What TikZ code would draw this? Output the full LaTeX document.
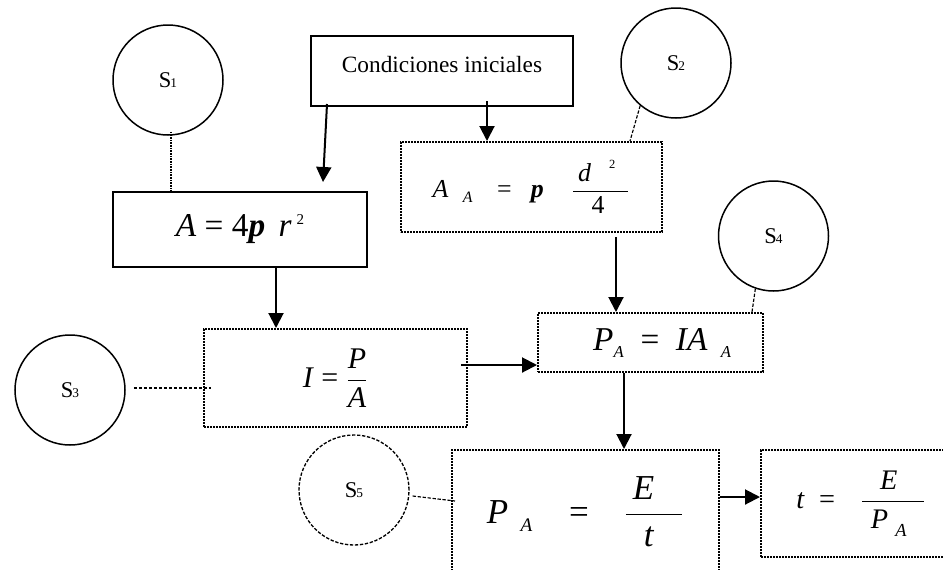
\documentclass[tikz,border=0pt]{standalone}
\usepackage{fontspec}
\setmainfont{Liberation Serif}
\usetikzlibrary{arrows.meta,calc}

% ---------- unit (1 px of the sketch) ----------
\def\u{0.6pt}

% ---------- styles ----------
\tikzset{
  solidbox/.style={draw, line width=1.2pt, inner sep=2pt},
  dotbox/.style={draw, line width=1.2pt, dash pattern=on 1.1pt off 0.7pt, inner sep=2pt},
  bubble/.style={circle, draw, line width=0.9pt, minimum size=110*\u, inner sep=0pt,
    font=\fontsize{13.5}{15}\selectfont},
  dashbubble/.style={bubble, dash pattern=on 2pt off 1pt, line width=0.8pt},
  flow/.style={-{Triangle[length=9pt,width=9pt]}, line width=1.2pt},
  link/.style={line width=0.7pt, dash pattern=on 2pt off 1pt},
}

% ---------- small indices ----------
\newcommand{\sidx}[1]{\kern-0.6pt{\fontsize{8}{8}\selectfont #1}}
% #1 = drop, #2 = size, #3 = text
\newcommand{\lowtxt}[3]{\raisebox{-#1}{\fontsize{#2}{#2}\selectfont #3}}
% #1 = raise, #2 = size, #3 = text
\newcommand{\hightxt}[3]{\raisebox{#1}{\fontsize{#2}{#2}\selectfont #3}}

\begin{document}
\begin{tikzpicture}[x=\u, y=-\u]

\useasboundingbox (0,0) rectangle (943,569);
\clip (0,0) rectangle (943,569);

% ---------- boxes ----------
\node[solidbox, minimum width=262*\u, minimum height=70*\u, text depth=8pt,
  font=\fontsize{14}{16}\selectfont] (cond) at (442,71) {Condiciones iniciales};

\node[solidbox, minimum width=254*\u, minimum height=75*\u,
  font=\fontsize{20}{24}\selectfont] (eqA) at (240,229.5)
  {\textit{A} = 4\textbf{\textit{p}}\hspace{0.4em}\textit{r}\hspace{0.15em}\hightxt{0.36em}{9pt}{2}};

\node[dotbox, minimum width=261*\u, minimum height=90*\u,
  font=\fontsize{15.5}{18}\selectfont] (eqAA) at (531.5,187)
  {\textit{A}\hspace{0.55em}\lowtxt{0.2em}{9.5pt}{\textit{A}}\hspace{0.95em}=\hspace{0.75em}%
   \textbf{\textit{p}}\hspace{1.05em}%
   $\displaystyle\frac{\hspace{0.2em}\textit{d}\hspace{0.7em}\hightxt{0.5em}{7.5pt}{2}\hspace{0.5em}}%
   {\mbox{4}\hspace{0.2em}}$};

\node[dotbox, minimum width=263*\u, minimum height=98*\u,
  font=\fontsize{18}{22}\selectfont] (eqI) at (335.5,378)
  {\textit{I} = $\displaystyle\frac{\textit{P}}{\textit{A}}$};

\node[dotbox, minimum width=225*\u, minimum height=59*\u,
  font=\fontsize{20}{24}\selectfont] (eqPA) at (650.5,342.5)
  {\hspace*{14pt}\textit{P}\lowtxt{0.21em}{10pt}{\textit{A}}\hspace{0.5em}=\hspace{0.5em}%
   \textit{IA}\hspace{0.4em}\lowtxt{0.21em}{10pt}{\textit{A}}};

\node[dotbox, minimum width=267*\u, minimum height=124*\u,
  font=\fontsize{21}{25}\selectfont] (eqE) at (585.5,512)
  {\textit{P}\hspace{0.35em}\lowtxt{0.23em}{11.5pt}{\textit{A}}\hspace{1.05em}=\hspace{1em}%
   $\displaystyle\frac{\hspace{0.2em}\textit{E}\hspace{0.8em}}{\hspace{0.5em}\textit{t}\hspace{0.8em}}$};

\node[dotbox, minimum width=200*\u, minimum height=107*\u,
  font=\fontsize{17}{20}\selectfont] (eqt) at (861,503.5)
  {\textit{t}\hspace{0.5em}=\hspace{0.9em}%
   $\displaystyle\frac{\hspace{0.5em}\textit{E}\hspace{0.8em}}%
   {\hspace{0.3em}\textit{P}\hspace{0.25em}\lowtxt{0.28em}{11pt}{\textit{A}}\hspace{0.6em}}$};

% ---------- bubbles ----------
\node[bubble] (s1) at (168,80) {S\sidx{1}};
\node[bubble] (s2) at (676,63) {S\sidx{2}};
\node[bubble] (s3) at (70,390) {S\sidx{3}};
\node[bubble] (s4) at (773.5,236) {S\sidx{4}};
\node[dashbubble] (s5) at (354,490) {S\sidx{5}};

% ---------- arrows ----------
\coordinate (c1) at ($(cond.south west)+(17,-3)$);
\coordinate (c2) at ($(eqA.north east)+(-45,-9)$);
\draw[flow] (c1) -- (c2);

\coordinate (c3) at ($(cond.south)+(45,-6)$);
\draw[flow] (c3) -- (c3 |- eqAA.north);

\coordinate (c4) at ($(eqA.south)+(36,0)$);
\draw[flow] (c4) -- (c4 |- eqI.north);

\coordinate (c5) at ($(eqPA.north)+(-34.5,0)$);
\draw[flow] ($(c5 |- eqAA.south)+(0,4)$) -- (c5);

\coordinate (c6) at ($(eqPA.west)+(0,22.5)$);
\draw[flow] ($(c6 -| eqI.east)+(-7,0)$) -- (c6);

\coordinate (c7) at ($(eqPA.south)+(-26.5,0)$);
\draw[flow] (c7) -- (c7 |- eqE.north);

\coordinate (c8) at ($(eqE.east)+(0,-15)$);
\draw[flow] (c8) -- (c8 -| eqt.west);

% ---------- links to the bubbles ----------
\draw[line width=1.1pt, dash pattern=on 1pt off 0.6pt]
  ($(s1.south)+(3,-4)$) -- ($(s1.south |- eqA.north)+(3,0)$);
\draw[link] (s2.230) -- ($(eqAA.north east)+(-33,0)$);
\draw[link] ($(s3.east)+(8,-2)$) -- ($(eqI.west |- s3.east)+(8,-2)$);
\draw[link] (s4.251) -- ($(eqPA.north east)+(-12,0)$);
\draw[link] ($(s5.east)+(3,6)$) -- ($(eqE.west)+(4,-11)$);

\end{tikzpicture}
\end{document}
